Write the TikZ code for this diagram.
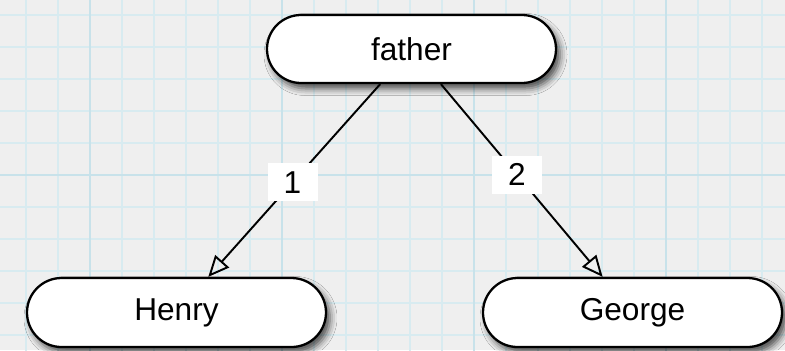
\documentclass[tikz,border=0pt]{standalone}
\usepackage{xcolor}
\usepackage{fontspec}
\setmainfont{Liberation Sans}
\usepackage{tikz}
\usetikzlibrary{arrows.meta}
\usetikzlibrary{positioning}
\usetikzlibrary{shadows.blur}

\definecolor{paper}{RGB}{239,239,239}
\definecolor{gridblue}{RGB}{200,226,234}

\begin{document}
\begin{tikzpicture}[
        person/.style={draw, line width=1.3pt, fill=white, rounded corners=0.69cm,
            minimum width=5.98cm, minimum height=1.38cm, inner sep=0pt,
            font=\fontsize{18pt}{21pt}\selectfont,
            blur shadow={shadow xshift=0.08cm, shadow yshift=-0.11cm, shadow blur radius=0.14cm, shadow opacity=70}},
        link/.style={line width=1.1pt, -{Triangle[open, length=0.42cm, width=0.37cm, line width=1.1pt]}},
        num/.style={fill=white, minimum width=1cm, minimum height=0.76cm, inner sep=0pt,
            font=\fontsize{18pt}{21pt}\selectfont}]
        \useasboundingbox (0,0) rectangle (15.7,7);
        \fill[paper] (0,0) rectangle (15.7,7);

        % paper grid
        \begin{scope}
            \clip (0,0) rectangle (15.7,7);
            \draw[gridblue!70, line width=0.7pt, shift={(1.8,3.5)}] (-3.84,-3.84) grid[step=0.64] (15.36,3.84);
            \draw[gridblue, line width=1.3pt, shift={(1.8,3.5)}] (-3.84,-3.84) grid[step=3.84] (15.36,3.84);
        \end{scope}

        \node[person, minimum width=5.78cm, minimum height=1.36cm, rounded corners=0.68cm] (father) at (8.23,6.02) {father};
        \node[person] (henry) at (3.53,0.75) {Henry};
        \node[person] (george) at (12.65,0.75) {George};

        \draw[link] (father) -- node[num, pos=0.51] {1} (henry);
        \draw[link] (father) -- node[num, pos=0.47] {2} (george);
    \end{tikzpicture}
\end{document}
